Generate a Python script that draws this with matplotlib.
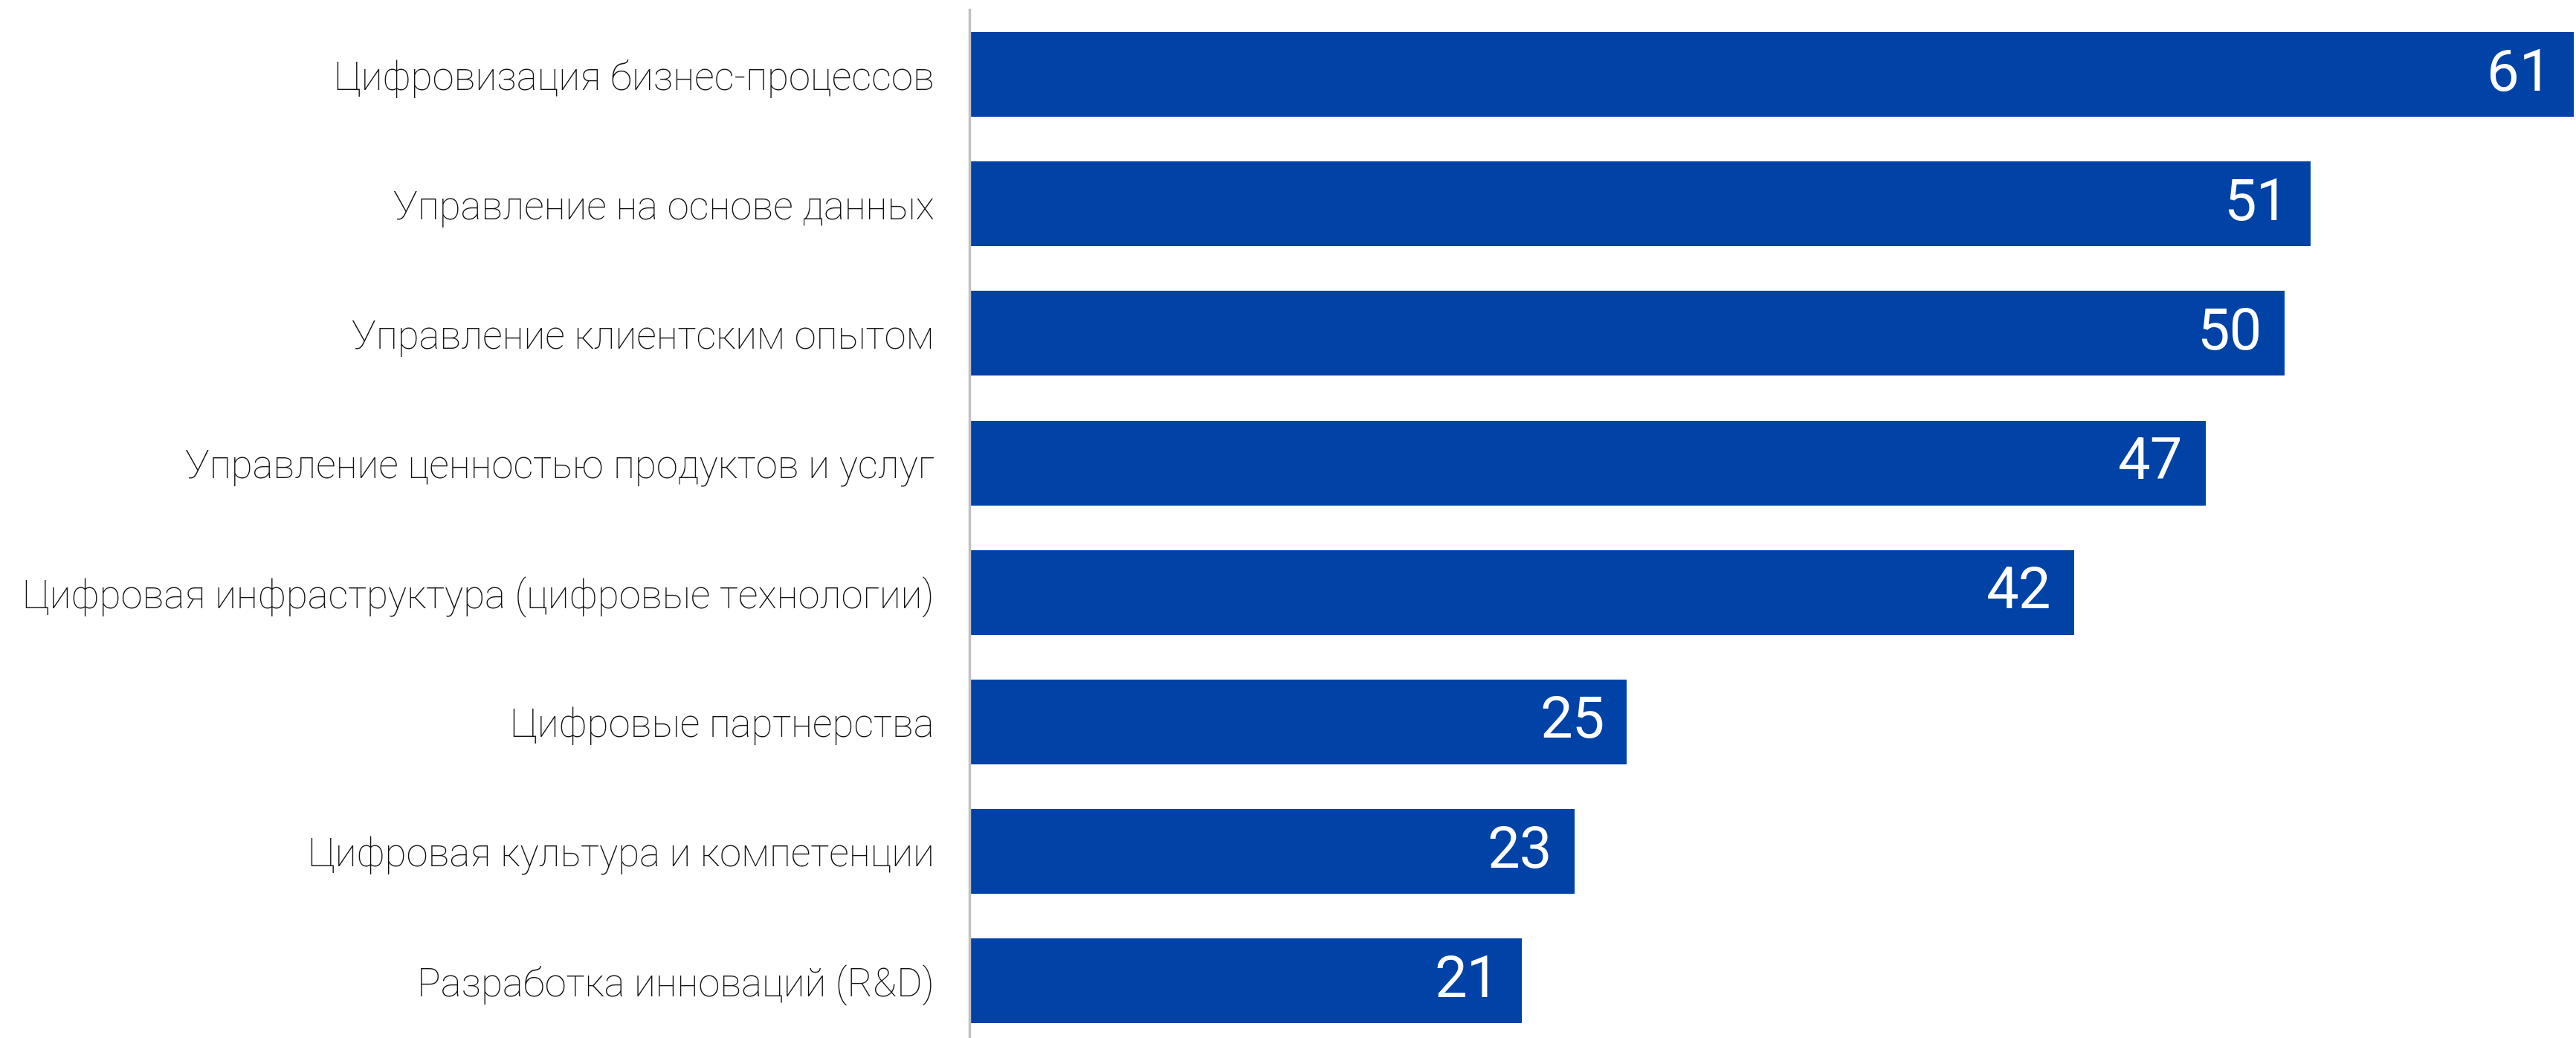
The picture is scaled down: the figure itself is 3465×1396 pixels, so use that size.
import matplotlib
matplotlib.use("Agg")
from matplotlib import pyplot as plt

categories = [
    "Цифровизация бизнес-процессов",
    "Управление на основе данных",
    "Управление клиентским опытом",
    "Управление ценностью продуктов и услуг",
    "Цифровая инфраструктура (цифровые технологии)",
    "Цифровые партнерства",
    "Цифровая культура и компетенции",
    "Разработка инноваций (R&D)",
]
values = [61, 51, 50, 47, 42, 25, 23, 21]

BAR = "#0142A6"

plt.rcParams['font.family'] = ['Roboto', 'DejaVu Sans']

fig = plt.figure(figsize=(34.65, 13.96), dpi=100)
# axes placed to line up with the reference layout (pixels / figure size)
ax = fig.add_axes([1304 / 3465, 0.0, (3462 - 1304) / 3465, (1396 - 13) / 1396])

y = list(range(len(categories)))
ax.barh(y, values, height=0.655, color=BAR)

ax.set_xlim(0, 61)
ax.set_ylim(7.44, -0.5)

ax.set_yticks(y)
ax.set_yticklabels(categories, fontsize=38, fontweight='light', color='#111111')
ax.tick_params(axis='y', length=0, pad=34)
ax.set_xticks([])

for s in ['top', 'right', 'bottom']:
    ax.spines[s].set_visible(False)
ax.spines['left'].set_color('#c0c0c0')
ax.spines['left'].set_linewidth(2.5)

for yi, v in zip(y, values):
    ax.annotate(str(v), xy=(v, yi), xytext=(-30, 0), textcoords='offset pixels',
                ha='right', va='center', color='white', fontsize=56)

fig.savefig("out.png", dpi=100)
